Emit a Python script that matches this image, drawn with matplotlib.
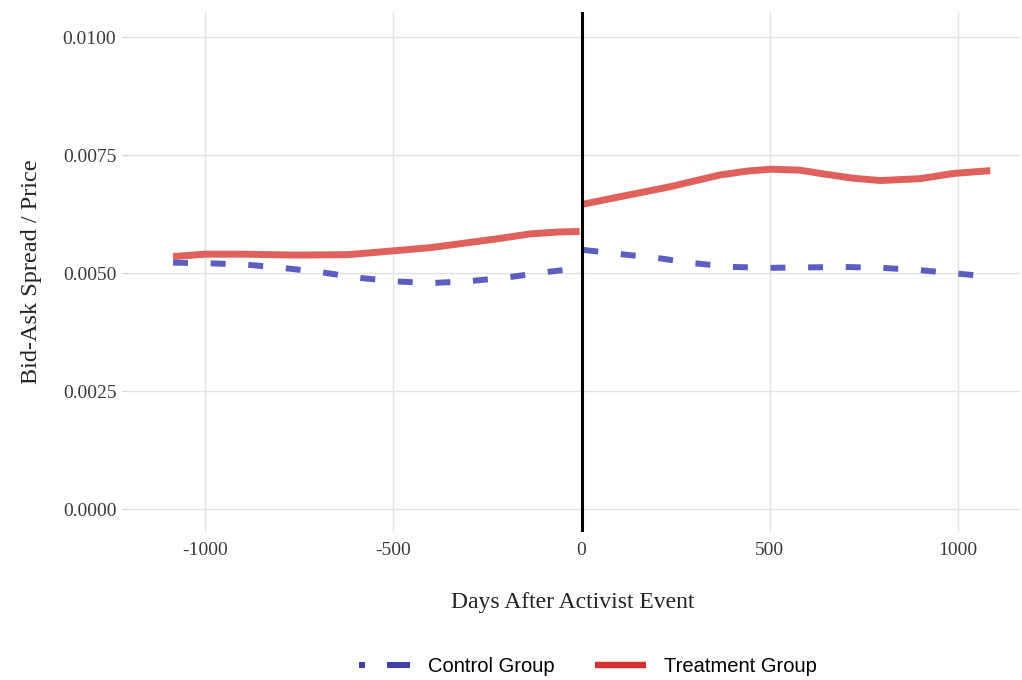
import matplotlib as mpl
import matplotlib.pyplot as plt
from matplotlib.lines import Line2D

mpl.rcParams['axes.unicode_minus'] = False
mpl.rcParams['font.family'] = ['Liberation Serif', 'DejaVu Serif']

# days after activist event
days_pre = [-1085, -1000, -893, -795, -694, -593, -489, -394, -295, -194, -96, -5]
control_pre = [0.00522, 0.00521, 0.00518, 0.00511, 0.00502, 0.00490,
               0.00482, 0.00479, 0.00483, 0.00491, 0.00502, 0.00510]
treat_pre_days = [-1085, -1000, -900, -760, -620, -500, -400, -314, -220, -136, -60, -5]
treat_pre = [0.00535, 0.00540, 0.00540, 0.00538, 0.00539, 0.00547,
             0.00554, 0.00563, 0.00573, 0.00583, 0.00587, 0.00588]

days_post = [5, 104, 201, 296, 400, 496, 600, 695, 799, 900, 997, 1090]
control_post = [0.00549, 0.00540, 0.00532, 0.00521, 0.00513, 0.00511,
                0.00512, 0.00513, 0.00511, 0.00506, 0.00499, 0.00492]
treat_post_days = [5, 104, 236, 369, 440, 502, 580, 635, 720, 794, 900, 988, 1086]
treat_post = [0.00646, 0.00662, 0.00683, 0.00708, 0.00716, 0.00720, 0.00718,
              0.00711, 0.00701, 0.00696, 0.00700, 0.00711, 0.00717]

x_ticks = [-1000, -500, 0, 500, 1000]
y_ticks = [0.0, 0.0025, 0.0050, 0.0075, 0.0100]

red_line = '#E0605C'
blue_line = '#5A5EC0'
red_key = '#D8302E'
blue_key = '#3C40A8'

fig = plt.figure(figsize=(10.22, 6.8), dpi=100)
ax = fig.add_axes([0.1233, 0.2176, 0.8748, 0.7647])

ax.plot(treat_pre_days, treat_pre, color=red_line, lw=5.0, solid_capstyle='butt', zorder=3)
ax.plot(treat_post_days, treat_post, color=red_line, lw=5.0, solid_capstyle='butt', zorder=3)
ax.plot(days_pre, control_pre, color=blue_line, lw=4.3, dashes=(2.5, 3.8),
        dash_capstyle='butt', zorder=3)
ax.plot(days_post, control_post, color=blue_line, lw=4.3, dashes=(2.5, 3.8),
        dash_capstyle='butt', zorder=3)

ax.axvline(0, color='black', lw=2.2, zorder=4)

ax.set_xlim(-1210, 1165)
ax.set_ylim(-0.000487, 0.01053)
ax.set_xticks(x_ticks)
ax.set_yticks(y_ticks)
ax.set_yticklabels(['%.4f' % v for v in y_ticks])
ax.grid(True, color='#E2E2E2', lw=1.0)
ax.set_axisbelow(True)
for s in ax.spines.values():
    s.set_visible(False)
ax.tick_params(axis='both', colors='#cccccc', length=3, width=0.8,
               labelcolor='#3a3a3a', labelsize=14)
ax.tick_params(axis='y', pad=4)
ax.tick_params(axis='x', length=0, pad=7)

ax.set_xlabel('Days After Activist Event', fontsize=17, color='#222222', labelpad=24)
ax.set_ylabel('Bid-Ask Spread / Price', fontsize=17.5, color='#222222', labelpad=15)

handles = [Line2D([], [], color=blue_key, lw=4.3, dashes=(1.0, 3.7, 4.2, 5.0),
                  dash_capstyle='butt'),
           Line2D([], [], color=red_key, lw=4.6, solid_capstyle='butt')]
leg = fig.legend(handles, ['Control Group', 'Treatment Group'], loc='center',
                 bbox_to_anchor=(0.575, 0.02), ncol=2, frameon=False,
                 prop={'family': 'Liberation Sans', 'size': 14.5},
                 handlelength=2.55, columnspacing=2.0, handletextpad=0.87)

fig.savefig('out.png', dpi=100)
